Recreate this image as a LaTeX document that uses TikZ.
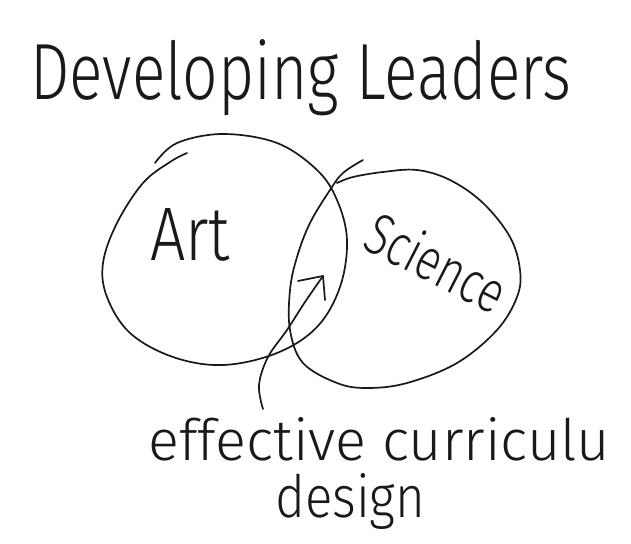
\documentclass[tikz,border=0pt]{standalone}
\usepackage{fontspec}
\setmainfont{Fira Sans}[UprightFont=* Light]
\usepackage{graphicx}
\tikzset{
  pen/.style={line width=1.7pt, draw=black!90, line cap=round, line join=round},
  handtext/.style={inner sep=0pt, text=black!90}
}
\begin{document}
\begin{tikzpicture}[x=1pt,y=-1pt]
\useasboundingbox[fill=white] (0,0) rectangle (631,543);
% texts
\node[handtext, anchor=base west] (title) at (30,99) {\resizebox{541pt}{60pt}{Developing Leaders}};
\node[handtext, anchor=base west] (art) at (150,260) {\resizebox{80pt}{52pt}{Art}};
\node[handtext, anchor=center, rotate=-27] (sci) at (437,262) {\resizebox{150pt}{44pt}{Science}};
\node[handtext, anchor=base west] (ecd) at (148,460) {\resizebox{462pt}{43pt}{effective curriculu}};
\node[handtext, anchor=base west] (design) at (275,517) {\resizebox{150pt}{44pt}{design}};
% Art loop
\draw[pen] plot[smooth, tension=0.6] coordinates {
 (155,163) (177,143) (223,134) (277,143) (317,170) (337,200) (347,240)
 (340,287) (317,327) (277,353) (223,365) (173,357) (130,333) (107,297)
 (103,263) (117,223) (143,183) (170,162) (187,153)};
% Science loop
\draw[pen] plot[smooth, tension=0.6] coordinates {
 (363,160) (343,173) (330,190) (310,223) (297,257) (290,290) (290,330)
 (303,363) (337,383) (367,388) (407,383) (457,363) (497,330) (517,297)
 (520,270) (510,237) (483,203) (450,180) (417,170) (383,172) (353,177) (337,183)};
% arrow
\coordinate (tail) at (263,409);
\coordinate (tip) at (323,276);
\coordinate (armL) at (298,281);
\coordinate (armR) at (325,300);
\draw[pen] plot[smooth, tension=0.6] coordinates {(tail) (259,385) (268,357) (287,330) (305,302) (tip)};
\draw[pen] (armL) -- (tip) -- (armR);
\end{tikzpicture}
\end{document}
